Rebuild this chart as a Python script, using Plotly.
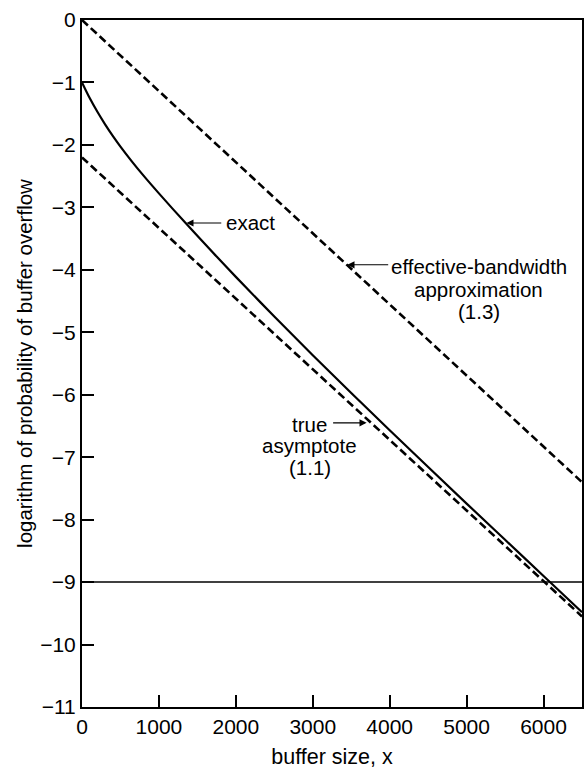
import plotly.graph_objects as go

# ---------------- data ----------------
x_exact = [0, 100, 200, 300, 400, 500, 650, 800, 1000, 1350, 1750, 2000, 2500,
           3000, 3500, 4000, 4500, 5000, 5500, 6000, 6500]
y_exact = [-1.00, -1.25, -1.47, -1.67, -1.855, -2.027, -2.267, -2.492, -2.776,
           -3.256, -3.788, -4.113, -4.748, -5.368, -5.973, -6.568, -7.158, -7.743,
           -8.323, -8.903, -9.483]

x_asym = [0, 6500]
y_asym = [-2.2, -9.55]

x_eff = [0, 6500]
y_eff = [0.0, -7.40]

x_level = [0, 6500]
y_level = [-9, -9]

x_ticks = [0, 1000, 2000, 3000, 4000, 5000, 6000]
y_ticks = [0, -1, -2, -3, -4, -5, -6, -7, -8, -9, -10, -11]

FONT = "Liberation Sans, Arial, Helvetica, sans-serif"

fig = go.Figure()
fig.add_trace(go.Scatter(x=x_level, y=y_level, mode="lines",
                         line=dict(color="black", width=1.5), hoverinfo="skip"))
fig.add_trace(go.Scatter(x=x_eff, y=y_eff, mode="lines",
                         line=dict(color="black", width=2.6, dash="8px,4px")))
fig.add_trace(go.Scatter(x=x_asym, y=y_asym, mode="lines",
                         line=dict(color="black", width=2.6, dash="8px,4px")))
fig.add_trace(go.Scatter(x=x_exact, y=y_exact, mode="lines", line_shape="spline",
                         line=dict(color="black", width=2.2)))

def arrow(hx, hy, tx, ty):
    fig.add_annotation(x=hx, y=hy, ax=tx, ay=ty, xref="x", yref="y",
                       axref="x", ayref="y", text="", showarrow=True,
                       arrowhead=2, arrowsize=1.3, arrowwidth=1.1,
                       arrowcolor="black")

def label(x, y, text, anchor="center"):
    fig.add_annotation(x=x, y=y, xref="x", yref="y", text=text, showarrow=False,
                       xanchor=anchor, yanchor="middle",
                       font=dict(family=FONT, size=20.5, color="black"))

arrow(1357, -3.25, 1830, -3.25)
label(1850, -3.24, "exact", "left")

arrow(3450, -3.92, 4000, -3.92)
label(5160, -3.95, "effective-bandwidth")
label(5160, -4.32, "approximation")
label(5160, -4.66, "(1.3)")

arrow(3700, -6.45, 3245, -6.45)
label(2960, -6.47, "true")
label(2960, -6.82, "asymptote")
label(2960, -7.16, "(1.1)")

fig.update_layout(
    width=585, height=770,
    margin=dict(l=82, r=1, t=20, b=63),
    paper_bgcolor="white", plot_bgcolor="white",
    showlegend=False,
    font=dict(family=FONT, size=20, color="black"),
)
fig.update_xaxes(range=[0, 6500], tickvals=x_ticks, ticks="inside", ticklen=12,
                 tickwidth=1.5, tickcolor="black", showline=True, linecolor="black",
                 linewidth=2, mirror=True, showgrid=False, zeroline=False,
                 tickfont=dict(size=21),
                 title=dict(text="buffer size, x", font=dict(size=21.5), standoff=12))
fig.update_yaxes(range=[-11, 0], tickvals=y_ticks, ticks="inside", ticklen=12,
                 tickwidth=1.5, tickcolor="black", showline=True, linecolor="black",
                 linewidth=2, mirror=True, showgrid=False, zeroline=False,
                 tickfont=dict(size=21),
                 title=dict(text="logarithm of probability of buffer overflow",
                            font=dict(size=20.5), standoff=2))

fig.write_html("out.html",
               config={"displayModeBar": False},
               post_script="document.body.style.margin='0';"
                           "document.body.style.overflow='hidden';")
